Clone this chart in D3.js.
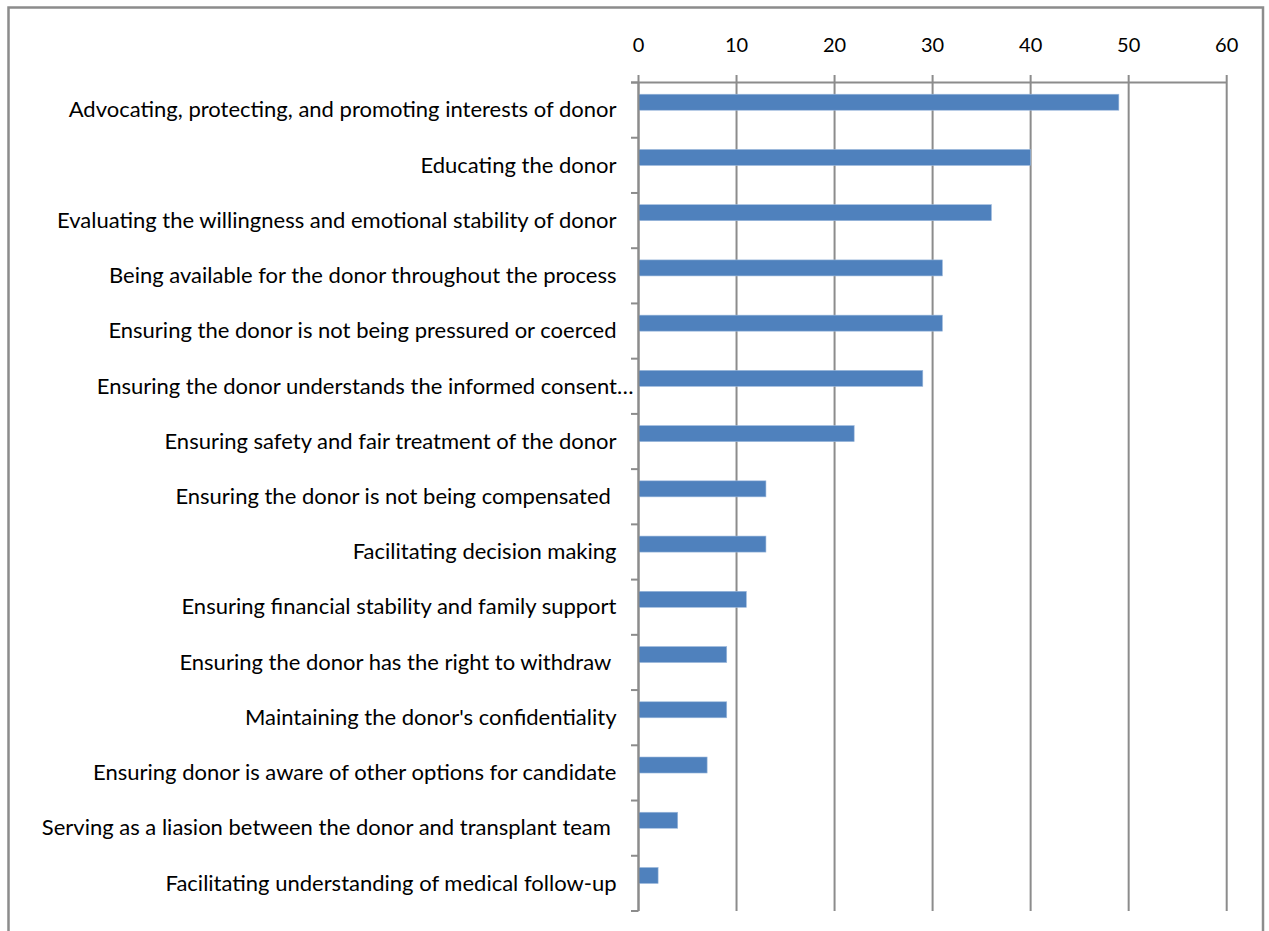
<!DOCTYPE html>
<html>
<head>
<meta charset="utf-8">
<script src="https://cdn.jsdelivr.net/npm/d3@7"></script>
<style>
  html, body { margin: 0; padding: 0; background: #fff; }
  svg { display: block; }
  text { font-family: Lato, "Open Sans", sans-serif; fill: #000; }
</style>
</head>
<body>
<svg id="chart" width="1269" height="931"></svg>
<script>
// Roles of the independent living donor advocate (number of responses)
const categories = [
  "Advocating, protecting, and promoting interests of donor",
  "Educating the donor",
  "Evaluating the willingness and emotional stability of donor",
  "Being available for the donor throughout the process",
  "Ensuring the donor is not being pressured or coerced",
  "Ensuring the donor understands the informed consent…",
  "Ensuring safety and fair treatment of the donor",
  "Ensuring the donor is not being compensated ",
  "Facilitating decision making",
  "Ensuring financial stability and family support",
  "Ensuring the donor has the right to withdraw ",
  "Maintaining the donor's confidentiality",
  "Ensuring donor is aware of other options for candidate",
  "Serving as a liasion between the donor and transplant team ",
  "Facilitating understanding of medical follow-up"
];
const values = [49, 40, 36, 31, 31, 29, 22, 13, 13, 11, 9, 9, 7, 4, 2];
const xTicks = [0, 10, 20, 30, 40, 50, 60];

const svg = d3.select("#chart");
const margin = { top: 82.5, left: 638.5 };

// outer frame of the chart area
svg.append("rect")
  .attr("x", 8.5).attr("y", 7.5)
  .attr("width", 1254.5).attr("height", 960)
  .attr("fill", "none").attr("stroke", "#8c8c8c").attr("stroke-width", 2.5);

const x = d3.scaleLinear().domain([0, 60]).range([margin.left, 1226.7]);
const y = d3.scaleBand().domain(categories).range([margin.top, 911]);

const gridColor = "#8c8c8c";

// vertical gridlines, with a short tick above the top axis
svg.append("g").selectAll("line").data(xTicks).join("line")
  .attr("x1", d => x(d)).attr("x2", d => x(d))
  .attr("y1", margin.top - 7.5).attr("y2", 911)
  .attr("stroke", gridColor).attr("stroke-width", 2);

// top axis line
svg.append("line")
  .attr("x1", margin.left - 7.5).attr("x2", x(60))
  .attr("y1", margin.top).attr("y2", margin.top)
  .attr("stroke", gridColor).attr("stroke-width", 2);

// top axis labels
svg.append("g").selectAll("text").data(xTicks).join("text")
  .attr("x", d => x(d)).attr("y", 52)
  .attr("text-anchor", "middle")
  .style("font-size", "20px")
  .text(d => d);

// category axis tick marks at band boundaries
const boundaries = categories.map(c => y(c)).concat([y.range()[1]]);
svg.append("g").selectAll("line").data(boundaries).join("line")
  .attr("x1", margin.left - 7.5).attr("x2", margin.left)
  .attr("y1", d => d).attr("y2", d => d)
  .attr("stroke", gridColor).attr("stroke-width", 2);

// bars sit in the upper slot of each category band
const bw = y.bandwidth();
svg.append("g").selectAll("rect").data(values).join("rect")
  .attr("x", x(0))
  .attr("y", (d, i) => y(categories[i]) + bw * 0.212)
  .attr("width", d => x(d) - x(0))
  .attr("height", bw * 0.29)
  .attr("fill", "#4f81bd")
  .attr("stroke", "#9db9dc").attr("stroke-width", 0.6);

// category axis line
svg.append("line")
  .attr("x1", margin.left).attr("x2", margin.left)
  .attr("y1", margin.top).attr("y2", 911)
  .attr("stroke", gridColor).attr("stroke-width", 2);

// category labels, right-aligned against the axis
svg.append("g").selectAll("text").data(categories).join("text")
  .attr("x", d => d.endsWith("…") ? margin.left - 5 : margin.left - 22)
  .attr("y", d => y(d) + bw / 2)
  .attr("dy", "0.33em")
  .attr("text-anchor", "end")
  .attr("xml:space", "preserve")
  .style("white-space", "pre")
  .style("font-size", "22px")
  .text(d => d);
</script>
</body>
</html>
